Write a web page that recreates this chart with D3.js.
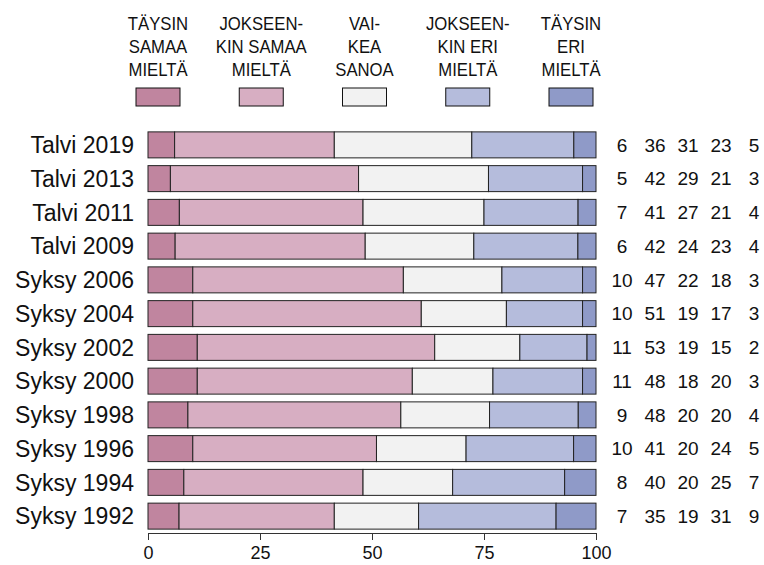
<!DOCTYPE html>
<html>
<head>
<meta charset="utf-8">
<script src="https://cdn.jsdelivr.net/npm/d3@7"></script>
<style>
  body { margin: 0; background: #fff; }
  svg { display: block; font-family: "Liberation Sans", Arial, sans-serif; }
</style>
</head>
<body>
<div id="chart"></div>
<script>
const width = 764;
const height = 565;

const periods = ["Talvi 2019", "Talvi 2013", "Talvi 2011", "Talvi 2009", "Syksy 2006", "Syksy 2004",
                 "Syksy 2002", "Syksy 2000", "Syksy 1998", "Syksy 1996", "Syksy 1994", "Syksy 1992"];
const categories = ["Täysin samaa mieltä", "Jokseenkin samaa mieltä", "Vaikea sanoa", "Jokseenkin eri mieltä", "Täysin eri mieltä"];
const legendLines = [
  ["TÄYSIN", "SAMAA", "MIELTÄ"],
  ["JOKSEEN-", "KIN SAMAA", "MIELTÄ"],
  ["VAI-", "KEA", "SANOA"],
  ["JOKSEEN-", "KIN ERI", "MIELTÄ"],
  ["TÄYSIN", "ERI", "MIELTÄ"]
];
const colors = ["#c0859f", "#d7aec2", "#f2f2f2", "#b5bcdc", "#8f9ac8"];
const values = [
  [6, 36, 31, 23, 5],
  [5, 42, 29, 21, 3],
  [7, 41, 27, 21, 4],
  [6, 42, 24, 23, 4],
  [10, 47, 22, 18, 3],
  [10, 51, 19, 17, 3],
  [11, 53, 19, 15, 2],
  [11, 48, 18, 20, 3],
  [9, 48, 20, 20, 4],
  [10, 41, 20, 24, 5],
  [8, 40, 20, 25, 7],
  [7, 35, 19, 31, 9]
];
const xTicks = [0, 25, 50, 75, 100];

const svg = d3.select("#chart").append("svg")
  .attr("width", width)
  .attr("height", height);

const x = d3.scaleLinear().domain([0, 100]).range([148, 596]);
const y = d3.scaleBand().domain(periods).range([128, 533]).paddingInner(0.23).paddingOuter(0.115);
const legendX = d3.scalePoint().domain(categories).range([158, 571]);
const numX = d3.scalePoint().domain(categories).range([622, 754]);

// stacked rows, normalised to 100
const rows = periods.map((p, i) => {
  const total = d3.sum(values[i]);
  let acc = 0;
  return values[i].map((v, j) => {
    const seg = {period: p, cat: categories[j], x0: acc, x1: acc + v / total * 100, v};
    acc = seg.x1;
    return seg;
  });
});

svg.append("g").selectAll("rect")
  .data(rows.flat())
  .join("rect")
  .attr("x", d => x(d.x0))
  .attr("y", d => y(d.period))
  .attr("width", d => x(d.x1) - x(d.x0))
  .attr("height", y.bandwidth())
  .attr("fill", d => colors[categories.indexOf(d.cat)])
  .attr("stroke", "#222")
  .attr("stroke-width", 1);

// row labels
svg.append("g").selectAll("text")
  .data(periods)
  .join("text")
  .attr("x", 134)
  .attr("y", d => y(d) + y.bandwidth() / 2)
  .attr("dy", "0.36em")
  .attr("text-anchor", "end")
  .style("font-size", "23px")
  .attr("fill", "#111")
  .text(d => d);

// numbers on the right
svg.append("g").selectAll("text")
  .data(rows.flat())
  .join("text")
  .attr("x", d => numX(d.cat))
  .attr("y", d => y(d.period) + y.bandwidth() / 2)
  .attr("dy", "0.36em")
  .attr("text-anchor", "middle")
  .style("font-size", "19px")
  .attr("fill", "#111")
  .text(d => d.v);

// axis
const axis = svg.append("g")
  .attr("transform", "translate(0,533)")
  .call(d3.axisBottom(x).tickValues(xTicks).tickSize(7).tickPadding(6).tickSizeOuter(0));
axis.select(".domain").attr("stroke", "#333");
axis.selectAll(".tick line").attr("stroke", "#333");
axis.selectAll(".tick text")
  .style("font-size", "18px")
  .style("font-family", "Liberation Sans, Arial, sans-serif")
  .attr("fill", "#111");

// legend
const leg = svg.append("g").selectAll("g")
  .data(categories)
  .join("g")
  .attr("transform", d => `translate(${legendX(d)},0)`);

leg.append("rect")
  .attr("x", -22)
  .attr("y", 88)
  .attr("width", 44)
  .attr("height", 18)
  .attr("fill", (d, i) => colors[i])
  .attr("stroke", "#111")
  .attr("stroke-width", 1);

leg.each(function(d, i) {
  d3.select(this).selectAll("text")
    .data(legendLines[i])
    .join("text")
    .attr("transform", (t, k) => `translate(0,${30 + k * 23}) scale(0.88,1)`)
    .attr("text-anchor", "middle")
    .style("font-size", "19px")
    .attr("fill", "#111")
    .text(t => t);
});
</script>
</body>
</html>
